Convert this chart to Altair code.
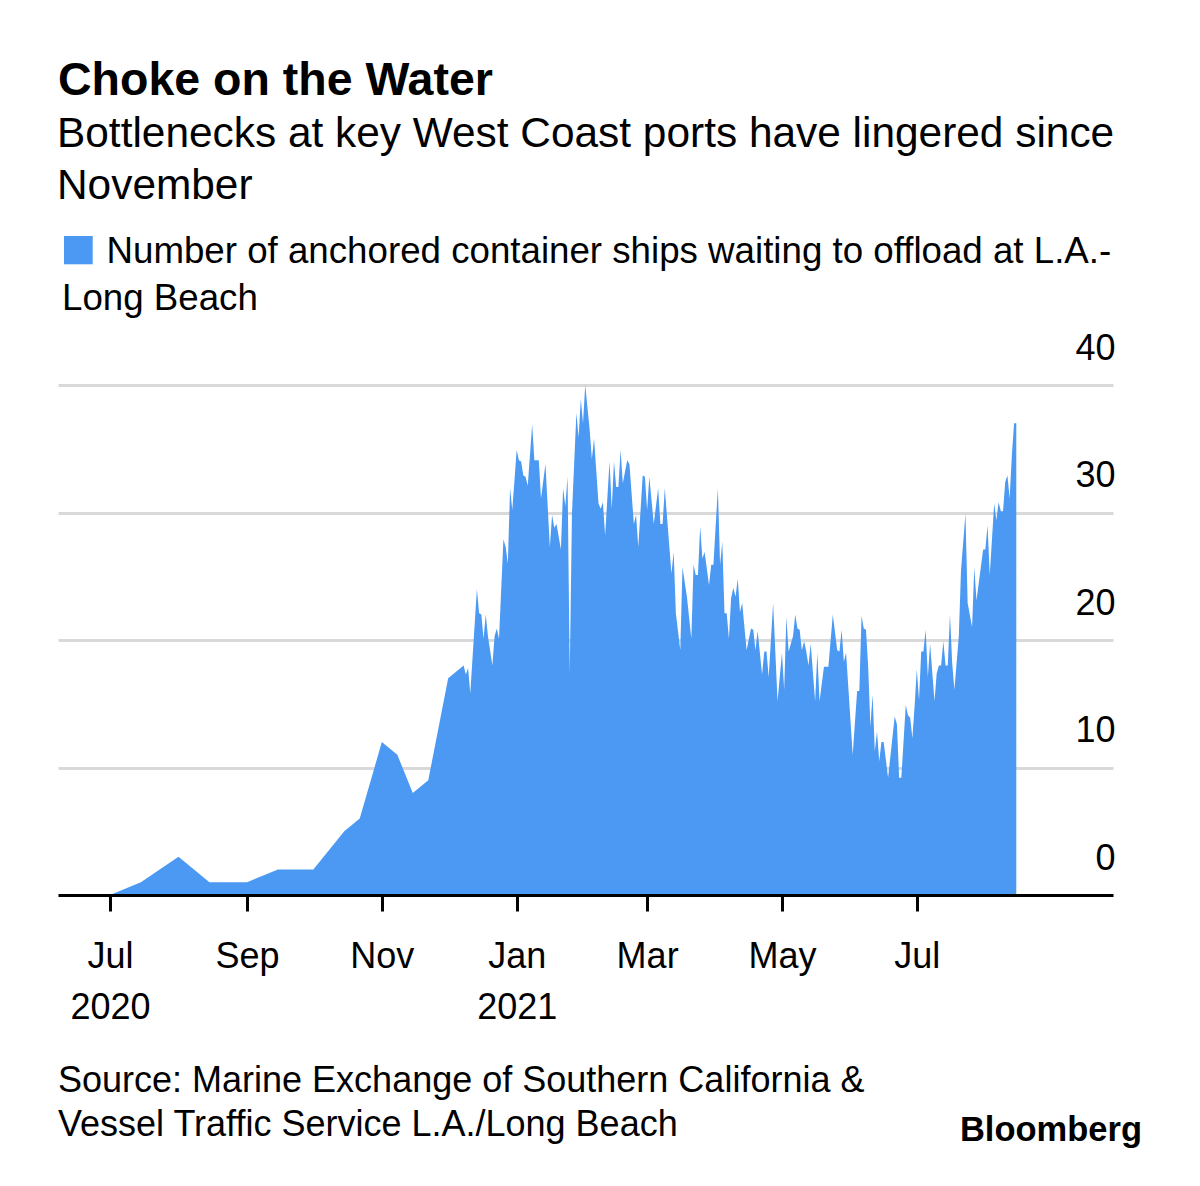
import altair as alt
import pandas as pd

# ---------------- text ----------------
title_text = "Choke on the Water"
subtitle_lines = ["Bottlenecks at key West Coast ports have lingered since", "November"]
legend_lines = ["Number of anchored container ships waiting to offload at L.A.-", "Long Beach"]
source_lines = ["Source: Marine Exchange of Southern California &",
                "Vessel Traffic Service L.A./Long Beach"]
brand_text = "Bloomberg"

# ---------------- data ----------------
dates = [
    "2020-07-01", "2020-07-15", "2020-08-01", "2020-08-15", "2020-09-01", "2020-09-15",
    "2020-10-01", "2020-10-15", "2020-10-22", "2020-11-01", "2020-11-08", "2020-11-15",
    "2020-11-22", "2020-12-01",
    "2020-12-08", "2020-12-09", "2020-12-10", "2020-12-11", "2020-12-14", "2020-12-15",
    "2020-12-16", "2020-12-17", "2020-12-18", "2020-12-19", "2020-12-21", "2020-12-22",
    "2020-12-23", "2020-12-24", "2020-12-26", "2020-12-27", "2020-12-28", "2020-12-29",
    "2020-12-30",
    "2021-01-01", "2021-01-02", "2021-01-03", "2021-01-04", "2021-01-05", "2021-01-06",
    "2021-01-08", "2021-01-09", "2021-01-11", "2021-01-12", "2021-01-14", "2021-01-16",
    "2021-01-17", "2021-01-18", "2021-01-19", "2021-01-21", "2021-01-22", "2021-01-23",
    "2021-01-24", "2021-01-25", "2021-01-26", "2021-01-28", "2021-01-29", "2021-01-30",
    "2021-01-31",
    "2021-02-01", "2021-02-03", "2021-02-04", "2021-02-05", "2021-02-07", "2021-02-08",
    "2021-02-09", "2021-02-10", "2021-02-12", "2021-02-13", "2021-02-14", "2021-02-15",
    "2021-02-16", "2021-02-17", "2021-02-18", "2021-02-20", "2021-02-21", "2021-02-23",
    "2021-02-24", "2021-02-25", "2021-02-27", "2021-02-28",
    "2021-03-01", "2021-03-02", "2021-03-04", "2021-03-06", "2021-03-07", "2021-03-08",
    "2021-03-09", "2021-03-12", "2021-03-13", "2021-03-14", "2021-03-16", "2021-03-17",
    "2021-03-19", "2021-03-21", "2021-03-22", "2021-03-23", "2021-03-24", "2021-03-25",
    "2021-03-26", "2021-03-27", "2021-03-29", "2021-03-30", "2021-03-31",
    "2021-04-02", "2021-04-03", "2021-04-04", "2021-04-05", "2021-04-06", "2021-04-07",
    "2021-04-08", "2021-04-09", "2021-04-10", "2021-04-11", "2021-04-12", "2021-04-13",
    "2021-04-15", "2021-04-17", "2021-04-18", "2021-04-19", "2021-04-20", "2021-04-22",
    "2021-04-23", "2021-04-24", "2021-04-25", "2021-04-27", "2021-04-29",
    "2021-05-01", "2021-05-02", "2021-05-03", "2021-05-04", "2021-05-06", "2021-05-07",
    "2021-05-08", "2021-05-09", "2021-05-10", "2021-05-11", "2021-05-12", "2021-05-13",
    "2021-05-14", "2021-05-16", "2021-05-17", "2021-05-18", "2021-05-20", "2021-05-22",
    "2021-05-24", "2021-05-26", "2021-05-27", "2021-05-28", "2021-05-29", "2021-05-30",
    "2021-06-02", "2021-06-04", "2021-06-05", "2021-06-06", "2021-06-07", "2021-06-08",
    "2021-06-09", "2021-06-10", "2021-06-11", "2021-06-12", "2021-06-13", "2021-06-14",
    "2021-06-15", "2021-06-16", "2021-06-18", "2021-06-21", "2021-06-22", "2021-06-23",
    "2021-06-24", "2021-06-26", "2021-06-27", "2021-06-28", "2021-06-29", "2021-06-30",
    "2021-07-01", "2021-07-02", "2021-07-03", "2021-07-04", "2021-07-05", "2021-07-06",
    "2021-07-07", "2021-07-09", "2021-07-10", "2021-07-11", "2021-07-12", "2021-07-13",
    "2021-07-14", "2021-07-15", "2021-07-16", "2021-07-17", "2021-07-18", "2021-07-20",
    "2021-07-21", "2021-07-23", "2021-07-24", "2021-07-26", "2021-07-27", "2021-07-28",
    "2021-07-31",
    "2021-08-01", "2021-08-02", "2021-08-03", "2021-08-05", "2021-08-06", "2021-08-07",
    "2021-08-08", "2021-08-09", "2021-08-10", "2021-08-11", "2021-08-12", "2021-08-13",
    "2021-08-14", "2021-08-15",
]

ships = [
    0, 1, 3, 1, 1, 2,
    2, 5, 6, 12, 11, 8,
    9, 17,
    18, 17.3, 17.8, 15.8, 24, 22.1,
    22, 20.1, 22, 20.3, 18, 20.3,
    20.9, 20.1, 27.9, 27.3, 26, 31.9,
    30.2,
    34.9, 34.1, 34, 32.9, 32.8, 32.1,
    36.9, 34.1, 34.1, 31.1, 33.8, 27.3,
    29.8, 28.8, 29.1, 27.1, 31.9, 30.5,
    32.8, 17.4, 29.9, 37.8, 35.9, 38.9,
    37.0,
    40, 36.5, 34.2, 35.8, 30.7, 30.3,
    30.8, 28.2, 34, 30.3, 34, 32,
    32, 34.9, 32.3, 34.1, 33.8, 29.1,
    29.8, 27.3, 32.9, 32.8,
    30.2, 32.8, 29.1, 31.9, 29.1, 29.1,
    31.9, 25.2, 26.9, 22.1, 19.2, 25.7,
    23.4, 20.1, 25.9, 25.1, 25.1, 28.9,
    26.4, 26.9, 24.3, 25.9, 25.9,
    31.9, 25.9, 27.7, 22.1, 22.1, 20.1,
    23.3, 24.1, 23.4, 24.8, 22.2, 22.9,
    19.2, 20.9, 20.8, 19.2, 20.7, 17.3,
    19.1, 19.1, 17.1, 22.9, 15.2,
    19.0, 16.1, 21.8, 19.1, 20.3, 22.0,
    20.9, 20.8, 19.2, 19.9, 19.1, 18.0,
    19.7, 15.2, 19.0, 15.2, 17.9, 17.9,
    22.0, 19.2, 19.1, 20.8, 18.3, 19.0,
    11.0, 16.0, 16.0, 21.9, 20.9, 20.8,
    17.9, 13.2, 15.7, 11.3, 12.8, 10.5,
    12.0, 12.0, 9.2, 14.0, 13.4, 9.2,
    9.2, 14.9, 14.1, 13.9, 12.3, 14.8,
    17.7, 15.3, 19.1, 19.1, 20.8, 17.1,
    19.7, 15.2, 17.4, 18.0, 18.0, 19.9,
    18.0, 18.0, 22.0, 18.2, 16.1, 20.3,
    25.5, 29.9, 22.9, 21.0, 25.7, 23.1,
    27.1,
    27.1, 29.0, 25.1, 30.7, 29.4, 30.8,
    30.1, 30.1, 32.4, 32.9, 31.1, 34.5,
    37.0, 37.0,
]

y_ticks = [0, 10, 20, 30, 40]
x_tick_months = [(2020, 7), (2020, 9), (2020, 11), (2021, 1), (2021, 3), (2021, 5), (2021, 7)]
x_start = (2020, 6, 7, 12)
x_end = (2021, 9, 27, 18)

# ---------------- style ----------------
BLUE = "#4b99f2"
GRID = "#d9d9d9"
FONT = "Liberation Sans"
W, H = 1055, 510

df = pd.DataFrame({"date": pd.to_datetime(dates), "ships": ships})

x_domain = [
    alt.DateTime(year=x_start[0], month=x_start[1], date=x_start[2], hours=x_start[3]),
    alt.DateTime(year=x_end[0], month=x_end[1], date=x_end[2], hours=x_end[3]),
]

label_expr = (
    "(month(datum.value) == 0 || (year(datum.value) == 2020 && month(datum.value) == 6))"
    " ? [timeFormat(datum.value, '%b'), timeFormat(datum.value, '%Y')]"
    " : timeFormat(datum.value, '%b')"
)

area = alt.Chart(df).mark_area(color=BLUE, interpolate="linear").encode(
    x=alt.X(
        "date:T",
        scale=alt.Scale(domain=x_domain),
        axis=alt.Axis(
            values=[alt.DateTime(year=y, month=m, date=1) for y, m in x_tick_months],
            labelExpr=label_expr,
            title=None,
            grid=False,
            domainColor="black",
            domainWidth=3,
            tickColor="black",
            tickWidth=3,
            tickSize=16,
            labelFont=FONT,
            labelFontSize=36,
            labelColor="black",
            labelPadding=28.5,
            labelLineHeight=51,
            labelFlush=False,
            labelOverlap=False,
            zindex=1,
        ),
    ),
    y=alt.Y(
        "ships:Q",
        scale=alt.Scale(domain=[0, 40], nice=False),
        axis=alt.Axis(
            orient="right",
            values=y_ticks,
            title=None,
            domain=False,
            ticks=False,
            tickSize=0,
            grid=True,
            gridColor=GRID,
            gridWidth=3,
            labelFont=FONT,
            labelFontSize=36,
            labelColor="black",
            labelAlign="right",
            labelBaseline="alphabetic",
            labelPadding=2,
            labelOffset=-26,
            zindex=0,
        ),
    ),
)


def text_layer(txt, x, y, size, weight="normal", align="left"):
    return alt.Chart(pd.DataFrame({"t": [txt]})).mark_text(
        align=align, baseline="alphabetic", fontSize=size, fontWeight=weight,
        font=FONT, color="black",
    ).encode(x=alt.value(x), y=alt.value(y), text="t:N")


legend_swatch = alt.Chart(pd.DataFrame({"k": [legend_lines[0]]})).mark_rect(color=BLUE).encode(
    x=alt.value(6), x2=alt.value(34.7), y=alt.value(-149), y2=alt.value(-120.7)
)

layers = [
    area,
    text_layer(title_text, 0, -290, 46.5, weight="bold"),
    text_layer(subtitle_lines[0], -1, -238, 42.4),
    text_layer(subtitle_lines[1], -1, -186.5, 42.4),
    legend_swatch,
    text_layer(legend_lines[0], 48.5, -121.7, 36.7),
    text_layer(legend_lines[1], 4, -75, 36.7),
    text_layer(source_lines[0], 0, 707, 36),
    text_layer(source_lines[1], 0, 751, 36),
    text_layer(brand_text, 1084, 756, 34.5, weight="bold", align="right"),
]

chart = alt.layer(*layers).properties(
    width=W,
    height=H,
    autosize=alt.AutoSizeParams(type="none"),
    padding={"left": 50, "top": 377, "right": 79, "bottom": 270},
    background="white",
).configure_view(strokeWidth=0)

chart.save("out.html", embed_options={"renderer": "svg", "actions": False})
